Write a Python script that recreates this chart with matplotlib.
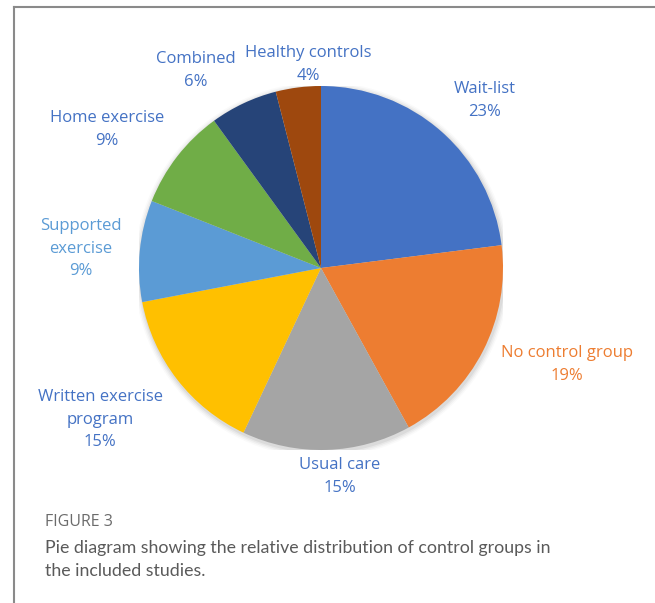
import matplotlib
matplotlib.use("Agg")
import matplotlib.pyplot as plt
from matplotlib.patches import Circle

W, H = 655, 603

groups = ["Wait-list", "No control group", "Usual care", "Written exercise\nprogram",
          "Supported\nexercise", "Home exercise", "Combined", "Healthy controls"]
shares = [23, 19, 15, 15, 9, 9, 6, 4]
colors = ["#4472C4", "#ED7D31", "#A5A5A5", "#FFC000", "#5B9BD5", "#70AD47", "#264478", "#9E480E"]
label_colors = ["#4472C4", "#ED7D31", "#4472C4", "#4472C4", "#5B9BD5", "#4472C4", "#4472C4", "#4472C4"]
# label centres in pixels (x, y of first line)
label_pos = [(485, 87), (567, 351), (340, 463), (100, 395), (81, 224), (107, 116), (196, 57), (308, 51)]


def px(x, y):
    return x / W, 1 - y / H


fig = plt.figure(figsize=(W / 100, H / 100), dpi=100)
fig.patch.set_facecolor("white")

# frame lines
fig.add_artist(plt.Line2D([14 / W, 14 / W], [0, 1 - 7 / H], color="#8a8a8a", lw=1.5))
fig.add_artist(plt.Line2D([14 / W, 1], [1 - 7 / H, 1 - 7 / H], color="#8a8a8a", lw=1.5))

cx, cy, r = 321, 268, 182
ax = fig.add_axes([(cx - r) / W, (H - cy - r) / H, 2 * r / W, 2 * r / H])
ax.axis("off")
# soft shadow
for i, a in enumerate([0.05, 0.04, 0.03, 0.02]):
    ax.add_patch(Circle((0.005, -0.01), 1 + 0.008 * (i + 1), color="black", alpha=a, lw=0))
ax.pie(shares, colors=colors, startangle=90, counterclock=False, radius=1,
       wedgeprops=dict(linewidth=0))
ax.set_xlim(-1.0, 1.0); ax.set_ylim(-1.0, 1.0)

for name, v, c, (x, y) in zip(groups, shares, label_colors, label_pos):
    fig.text(*px(x, y - 6), f"{name}\n{v}%", color=c, fontsize=12, family="Open Sans",
             ha="center", va="top", linespacing=1.55)

fig.text(*px(45, 522), "FIGURE 3", color="#6b6b6b", fontsize=11.5, family="Open Sans",
         ha="left", va="center")
fig.text(*px(45, 548), "Pie diagram showing the relative distribution of control groups in",
         color="#5a5a5a", fontsize=12.75, family="Lato", ha="left", va="center")
fig.text(*px(45, 571), "the included studies.",
         color="#5a5a5a", fontsize=12.75, family="Lato", ha="left", va="center")

fig.savefig("out.png", dpi=100)
